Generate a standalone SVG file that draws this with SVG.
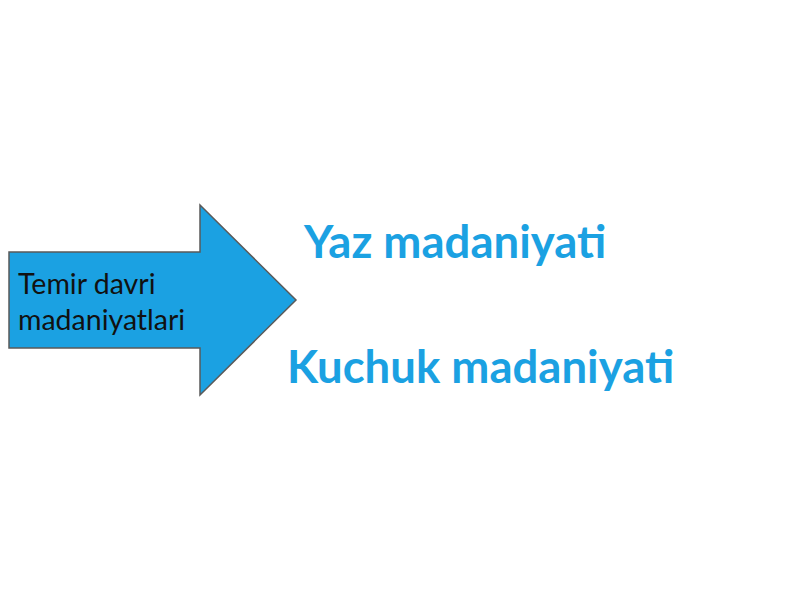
<svg xmlns="http://www.w3.org/2000/svg" width="800" height="600" viewBox="0 0 800 600">
<style>
.arrow{fill:#1BA1E2;stroke:#5a5a5a;stroke-width:1.5}
.lbl{font-family:Lato,"Open Sans",sans-serif;font-size:28.5px;fill:#111}
.big{font-family:Lato,"Open Sans",sans-serif;font-size:45.5px;font-weight:bold;fill:#1BA1E2}
</style>
<rect width="800" height="600" fill="#ffffff"/>
<g id="arrow-node">
<polygon class="arrow" points="9,252 200,252 200,205 296,300 200,395 200,348 9,348"/>
<text class="lbl" x="18" y="294">Temir davri</text>
<text class="lbl" x="18" y="330">madaniyatlari</text>
</g>
<g id="yaz">
<text class="big" x="304" y="258">Yaz madaniyati</text>
</g>
<g id="kuchuk">
<text class="big" x="287" y="383">Kuchuk madaniyati</text>
</g>
<g id="connectors"></g>
</svg>
